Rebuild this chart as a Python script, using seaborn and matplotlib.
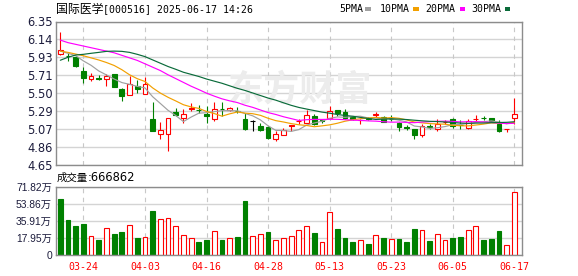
import numpy as np
import pandas as pd
import matplotlib
matplotlib.use("Agg")
import matplotlib.pyplot as plt
from matplotlib.patches import Rectangle
import seaborn as sns

# ---------------- data ----------------
dates = ["03-19", "03-20", "03-21", "03-24", "03-25", "03-26", "03-27", "03-28", "03-31",
         "04-01", "04-02", "04-03", "04-07", "04-08", "04-09", "04-10", "04-11", "04-14",
         "04-15", "04-16", "04-17", "04-18", "04-21", "04-22", "04-23", "04-24", "04-25",
         "04-28", "04-29", "04-30", "05-06", "05-07", "05-08", "05-09", "05-12", "05-13",
         "05-14", "05-15", "05-16", "05-19", "05-20", "05-21", "05-22", "05-23", "05-26",
         "05-27", "05-28", "05-29", "05-30", "06-03", "06-04", "06-05", "06-06", "06-09",
         "06-10", "06-11", "06-12", "06-13", "06-16", "06-17"]
tick_dates = ["03-24", "04-03", "04-16", "04-28", "05-13", "05-23", "06-05", "06-17"]

open_ = [5.965, 5.940, 5.933, 5.770, 5.672, 5.678, 5.676, 5.730, 5.547, 5.481,
         5.583, 5.497, 5.197, 5.017, 5.021, 5.280, 5.210, 5.310, 5.302, 5.260,
         5.194, 5.313, 5.300, 5.292, 5.202, 5.174, 5.116, 5.108, 4.960, 5.014,
         5.120, 5.170, 5.155, 5.233, 5.186, 5.213, 5.299, 5.279, 5.220, 5.183,
         5.210, 5.250, 5.220, 5.203, 5.150, 5.099, 5.077, 5.010, 5.111, 5.077,
         5.163, 5.194, 5.130, 5.096, 5.197, 5.212, 5.205, 5.143, 5.077, 5.213]
high = [6.220, 5.976, 5.940, 5.810, 5.742, 5.723, 5.730, 5.730, 5.567, 5.703,
        5.664, 5.692, 5.403, 5.158, 5.205, 5.330, 5.310, 5.385, 5.357, 5.350,
        5.397, 5.397, 5.338, 5.340, 5.272, 5.182, 5.147, 5.116, 5.057, 5.096,
        5.125, 5.201, 5.299, 5.252, 5.190, 5.350, 5.299, 5.310, 5.230, 5.200,
        5.220, 5.280, 5.230, 5.240, 5.160, 5.123, 5.080, 5.135, 5.143, 5.194,
        5.186, 5.213, 5.182, 5.200, 5.244, 5.229, 5.205, 5.182, 5.080, 5.440]
low = [5.957, 5.887, 5.810, 5.625, 5.645, 5.664, 5.583, 5.580, 5.410, 5.481,
       5.508, 5.497, 5.060, 4.963, 4.818, 5.233, 5.155, 5.290, 5.265, 5.155,
       5.175, 5.233, 5.290, 5.270, 5.070, 5.057, 5.057, 4.960, 4.940, 5.007,
       5.053, 5.143, 5.155, 5.127, 5.155, 5.205, 5.233, 5.200, 5.190, 5.143,
       5.190, 5.220, 5.160, 5.174, 5.050, 5.069, 4.960, 4.990, 5.085, 5.057,
       5.135, 5.088, 5.084, 5.084, 5.174, 5.190, 5.160, 5.045, 5.038, 5.143]
close = [6.015, 5.937, 5.820, 5.680, 5.710, 5.676, 5.703, 5.580, 5.470, 5.606,
         5.555, 5.614, 5.060, 5.068, 5.205, 5.248, 5.252, 5.325, 5.300, 5.233,
         5.311, 5.311, 5.323, 5.290, 5.077, 5.174, 5.069, 4.976, 5.019, 5.065,
         5.125, 5.175, 5.240, 5.143, 5.174, 5.291, 5.264, 5.213, 5.194, 5.186,
         5.195, 5.255, 5.166, 5.200, 5.100, 5.096, 5.010, 5.115, 5.108, 5.143,
         5.166, 5.116, 5.127, 5.174, 5.200, 5.209, 5.166, 5.057, 5.080, 5.260]

ma5 = [6.000, 5.974, 5.946, 5.884, 5.832, 5.765, 5.718, 5.670, 5.628, 5.607,
       5.583, 5.565, 5.461, 5.381, 5.300, 5.239, 5.167, 5.220, 5.266, 5.272,
       5.284, 5.296, 5.296, 5.294, 5.262, 5.235, 5.187, 5.117, 5.063, 5.061,
       5.051, 5.072, 5.125, 5.150, 5.171, 5.205, 5.222, 5.217, 5.227, 5.230,
       5.210, 5.209, 5.199, 5.200, 5.183, 5.163, 5.114, 5.104, 5.086, 5.094,
       5.108, 5.130, 5.132, 5.145, 5.157, 5.165, 5.175, 5.161, 5.142, 5.154]
ma10 = [6.000, 5.985, 5.965, 5.945, 5.920, 5.895, 5.865, 5.830, 5.780, 5.720,
        5.674, 5.641, 5.565, 5.504, 5.454, 5.411, 5.366, 5.340, 5.323, 5.286,
        5.262, 5.231, 5.258, 5.280, 5.267, 5.260, 5.241, 5.206, 5.178, 5.162,
        5.143, 5.129, 5.121, 5.106, 5.116, 5.128, 5.147, 5.171, 5.188, 5.201,
        5.208, 5.216, 5.208, 5.214, 5.206, 5.187, 5.162, 5.152, 5.143, 5.139,
        5.136, 5.122, 5.118, 5.116, 5.126, 5.137, 5.152, 5.147, 5.144, 5.156]
ma20 = [6.130, 6.100, 6.080, 6.060, 6.040, 6.020, 6.000, 5.980, 5.950, 5.920,
        5.890, 5.850, 5.810, 5.770, 5.720, 5.675, 5.630, 5.585, 5.545, 5.503,
        5.468, 5.436, 5.412, 5.392, 5.360, 5.335, 5.304, 5.273, 5.251, 5.224,
        5.202, 5.180, 5.189, 5.193, 5.192, 5.194, 5.194, 5.189, 5.183, 5.181,
        5.175, 5.172, 5.165, 5.160, 5.161, 5.157, 5.154, 5.161, 5.166, 5.170,
        5.172, 5.169, 5.163, 5.165, 5.166, 5.162, 5.157, 5.149, 5.143, 5.147]
ma30 = [5.892, 5.927, 5.954, 5.962, 5.974, 5.985, 5.997, 6.000, 5.997, 5.985,
        5.962, 5.935, 5.896, 5.857, 5.818, 5.785, 5.750, 5.725, 5.700, 5.670,
        5.645, 5.620, 5.590, 5.560, 5.535, 5.505, 5.475, 5.445, 5.420, 5.389,
        5.359, 5.334, 5.315, 5.297, 5.279, 5.266, 5.251, 5.239, 5.230, 5.216,
        5.204, 5.192, 5.196, 5.200, 5.196, 5.191, 5.183, 5.176, 5.170, 5.167,
        5.162, 5.156, 5.149, 5.145, 5.149, 5.150, 5.154, 5.156, 5.158, 5.165]

# volume in 万 (10k shares)
volume = [58.9, 36.8, 30.5, 32.6, 19.6, 15.8, 28.0, 22.1, 24.2, 31.2,
          17.9, 18.9, 46.2, 37.5, 38.5, 30.1, 20.7, 17.5, 13.7, 15.8,
          24.9, 15.8, 17.9, 18.9, 56.8, 19.6, 21.7, 24.2, 15.4, 17.9,
          20.0, 25.9, 30.1, 23.1, 13.3, 44.8, 27.3, 17.9, 13.7, 15.4,
          11.6, 20.7, 17.9, 16.5, 16.8, 13.7, 27.3, 25.9, 14.7, 21.7,
          15.4, 17.9, 18.9, 25.9, 30.1, 15.8, 16.8, 25.2, 10.2, 66.69]
vol_up = [0, 0, 0, 0, 1, 0, 1, 0, 0, 1, 0, 1, 0, 1, 1, 1, 1, 1, 0, 0,
          1, 0, 1, 0, 0, 1, 1, 0, 1, 1, 1, 1, 1, 0, 1, 1, 0, 0, 0, 1,
          0, 1, 0, 1, 0, 0, 0, 1, 0, 1, 1, 0, 0, 1, 1, 0, 0, 0, 1, 1]

price_tick_labels = ["4.65", "4.86", "5.07", "5.29", "5.50", "5.71", "5.93", "6.14", "6.35"]
vol_tick_labels = ["0", "17.95万", "35.91万", "53.86万", "71.82万"]
title_name = "国际医学"
title_rest = "[000516] 2025-06-17 14:26"
vol_title = "成交量"
vol_last = ":666862"
ma_names = ["5PMA", "10PMA", "20PMA", "30PMA"]

# ---------------- style ----------------
sns.set_theme(style="white")
plt.rcParams["font.family"] = ["DejaVu Sans", "Noto Sans CJK SC"]

RED = "#ff0000"
GREEN = "#008000"
MA_COLORS = ["#a0a0a0", "#f2a000", "#ff00ff", "#0a6b3a"]
GRID = "#d4d4d4"
SPINE = "#8c8c8c"
LABEL = "#1c1c3c"

W, H = 578, 276
fig = plt.figure(figsize=(W / 100, H / 100), dpi=100)
fig.patch.set_facecolor("white")


def fx(px):
    return px / W


def fy(py):
    return 1 - py / H


ax = fig.add_axes([fx(55.5), fy(165.3), (522 - 55.5) / W, (165.3 - 21.5) / H])
axv = fig.add_axes([fx(55.5), fy(255), (522 - 55.5) / W, (255 - 186.7) / H])

n = len(close)
idx = np.arange(n)
df = pd.DataFrame({"idx": idx, "date": dates, "open": open_, "high": high,
                   "low": low, "close": close, "vol": volume, "vol_up": vol_up,
                   "ma5": ma5, "ma10": ma10, "ma20": ma20, "ma30": ma30})

xmin, xmax = -0.624, 59.996
tick_idx = [dates.index(d) for d in tick_dates]

for a in (ax, axv):
    a.set_facecolor("white")
    a.set_xlim(xmin, xmax)
    a.set_axisbelow(True)
    for s in a.spines.values():
        s.set_color(SPINE)
        s.set_linewidth(1.0)
        s.set_visible(True)
    a.yaxis.grid(True, color=GRID, lw=1.0, ls="-")
    for t in tick_idx:
        a.axvline(t, color="#c8c8c8", lw=0.8, ls=(0, (4, 4)), zorder=0.6)
    a.tick_params(axis="both", length=0)

# ---------------- price panel ----------------
ax.set_ylim(4.65, 6.35)
pt = np.linspace(4.65, 6.35, len(price_tick_labels))
ax.set_yticks(pt)
ax.set_yticklabels(price_tick_labels, fontsize=8.3, color=LABEL, family="DejaVu Sans")
ax.tick_params(axis="y", pad=2)
ax.set_xticks([])

ax.text(fx(300), fy(90), "东方财富", transform=fig.transFigure, ha="center", va="center",
        fontsize=26, fontweight="bold", color="#ececec", family="Noto Sans CJK SC", zorder=0.7)

o = df["open"].values
c = df["close"].values
top = np.maximum(o, c)
bot = np.minimum(o, c)
ccol = np.where(c > o, RED, np.where(c < o, GREEN, "black"))
cface = np.where(c > o, "white", ccol)
ax.vlines(idx, top, df["high"].values, colors=ccol, lw=0.8, zorder=2)
ax.vlines(idx, df["low"].values, bot, colors=ccol, lw=0.8, zorder=2)
ax.bar(idx, np.maximum(top - bot, 0.0015), bottom=bot, width=0.62,
       color=list(cface), edgecolor=list(ccol), linewidth=0.8, zorder=2.5)

for col, mc in zip(["ma5", "ma10", "ma20", "ma30"], MA_COLORS):
    sns.lineplot(data=df, x="idx", y=col, ax=ax, color=mc, lw=0.85, zorder=3)
ax.set_xlabel("")
ax.set_ylabel("")
ax.set_xlim(xmin, xmax)

# ---------------- volume panel ----------------
axv.set_ylim(0, 71.82)
vt = np.linspace(0, 71.82, len(vol_tick_labels))
axv.set_yticks(vt)
axv.set_yticklabels(vol_tick_labels, fontsize=7.4, color=LABEL,
                    family=["Liberation Sans", "Noto Sans CJK SC"])
axv.tick_params(axis="y", pad=2.6)
up = df["vol_up"].values.astype(bool)
vcol = np.where(up, RED, GREEN)
vface = np.where(up, "white", GREEN)
axv.bar(idx, df["vol"].values, width=0.62, color=list(vface), edgecolor=list(vcol),
        linewidth=0.8, zorder=2)
axv.set_xticks(tick_idx)
axv.set_xticklabels(tick_dates, fontsize=7.1, color=RED, family="DejaVu Sans Mono")
axv.tick_params(axis="x", pad=5)
axv.set_xlim(xmin, xmax)

# ---------------- header texts ----------------
fig.text(fx(55.7), fy(9.3), title_name, ha="left", va="center", fontsize=8.6,
         color="black", family="Noto Sans CJK SC")
fig.text(fx(103.3), fy(9.3), title_rest, ha="left", va="center", fontsize=7.1,
         color="black", family="DejaVu Sans Mono")

leg_x = [339.3, 380.0, 425.7, 471.7]
sq_x = [365.3, 413.3, 460.0, 505.0]
for name, lx, sx, mc in zip(ma_names, leg_x, sq_x, MA_COLORS):
    fig.text(fx(lx), fy(8.6), name, ha="left", va="center", fontsize=7.1,
             color="black", family="DejaVu Sans Mono")
    fig.patches.append(Rectangle((fx(sx), fy(10.7)), 5.4 / W, 3.4 / H,
                                 transform=fig.transFigure, facecolor=mc,
                                 edgecolor="none"))

fig.text(fx(57), fy(177.7), vol_title, ha="left", va="center", fontsize=7.5,
         color="black", family="Noto Sans CJK SC")
fig.text(fx(87.5), fy(177.7), vol_last, ha="left", va="center", fontsize=8.3,
         color="black", family="DejaVu Sans")

fig.savefig("out.png", dpi=100, facecolor="white")
